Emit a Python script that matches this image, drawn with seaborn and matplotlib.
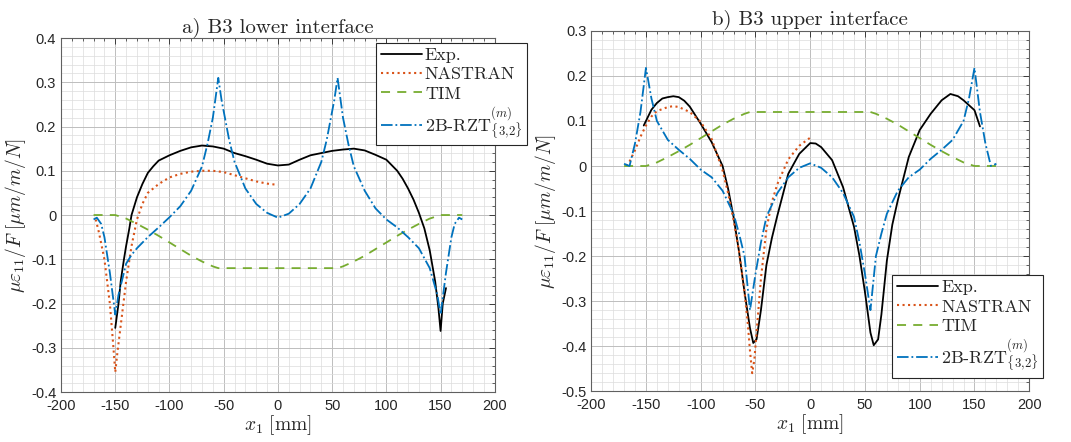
import numpy as np
import pandas as pd
import matplotlib
matplotlib.use("Agg")
import matplotlib.pyplot as plt
import seaborn as sns
from matplotlib.ticker import AutoMinorLocator, FuncFormatter, MultipleLocator

# ---------------------------------------------------------------------------
# a) B3 lower interface
# ---------------------------------------------------------------------------
a_exp_x = [-150, -147, -145, -142, -140, -137, -135, -130, -125, -120, -115, -110, -100,
           -90, -80, -70, -60, -50, -40, -30, -20, -10, 0, 10, 20, 30, 40, 50, 60, 70,
           80, 90, 100, 110, 115, 120, 125, 130, 135, 140, 145, 148, 150, 152, 155]
a_exp_y = [-0.255, -0.2, -0.15, -0.1, -0.07, -0.03, 0.0, 0.04, 0.07, 0.095, 0.11, 0.123, 0.135,
           0.145, 0.153, 0.157, 0.155, 0.15, 0.14, 0.133, 0.125, 0.116, 0.112, 0.114, 0.125, 0.135,
           0.14, 0.145, 0.148, 0.15, 0.146, 0.136, 0.125, 0.1, 0.082, 0.06, 0.035, 0.005, -0.03,
           -0.08, -0.15, -0.21, -0.262, -0.2, -0.165]

a_nas_x = [-168, -165, -160, -155, -152, -150, -148, -145, -140, -135, -130, -125, -120, -110,
           -100, -90, -80, -70, -60, -50, -40, -30, -20, -10, 0]
a_nas_y = [-0.01, -0.04, -0.1, -0.2, -0.29, -0.355, -0.31, -0.25, -0.15, -0.07, -0.01, 0.025,
           0.05, 0.07, 0.085, 0.093, 0.098, 0.1, 0.1, 0.097, 0.09, 0.083, 0.076, 0.071, 0.068]

a_tim_x = [-170, -160, -150, -140, -130, -120, -110, -100, -90, -80, -70, -60, -55, 0, 55,
           60, 70, 80, 90, 100, 110, 120, 130, 140, 150, 160, 170]
a_tim_y = [0.0, 0.0, 0.0, -0.008, -0.02, -0.033, -0.047, -0.062, -0.077, -0.092, -0.105, -0.116,
           -0.12, -0.12, -0.12, -0.116, -0.105, -0.092, -0.077, -0.062, -0.047, -0.033, -0.02,
           -0.008, 0.0, 0.0, 0.0]

a_rzt_x = [-170, -167, -163, -160, -155, -150, -147, -140, -135, -130, -120, -110, -100, -90,
           -80, -70, -65, -60, -55, -52, -45, -40, -30, -20, -10, 0, 10, 20, 30, 40, 45, 52,
           55, 60, 65, 70, 80, 90, 100, 110, 120, 130, 140, 147, 150, 155, 160, 163, 167, 170]
a_rzt_y = [-0.01, -0.006, -0.02, -0.05, -0.13, -0.225, -0.18, -0.11, -0.09, -0.075, -0.05,
           -0.028, -0.005, 0.02, 0.055, 0.11, 0.16, 0.22, 0.31, 0.26, 0.17, 0.12, 0.06, 0.025,
           0.005, -0.006, 0.003, 0.025, 0.06, 0.12, 0.17, 0.26, 0.31, 0.22, 0.16, 0.11, 0.055,
           0.015, -0.01, -0.028, -0.05, -0.075, -0.12, -0.18, -0.225, -0.13, -0.05, -0.02,
           -0.006, -0.01]

# ---------------------------------------------------------------------------
# b) B3 upper interface
# ---------------------------------------------------------------------------
b_exp_x = [-152, -148, -145, -140, -135, -130, -125, -120, -115, -110, -100, -90, -80, -75,
           -70, -65, -60, -55, -52, -49, -45, -40, -35, -30, -20, -10, 0, 5, 10, 20, 30, 40,
           45, 50, 55, 58, 62, 65, 70, 75, 80, 90, 100, 110, 120, 128, 135, 140, 145, 150, 155]
b_exp_y = [0.09, 0.11, 0.125, 0.14, 0.15, 0.153, 0.155, 0.153, 0.145, 0.132, 0.094, 0.053, 0.0,
           -0.05, -0.113, -0.19, -0.28, -0.36, -0.393, -0.385, -0.32, -0.22, -0.16, -0.11,
           -0.017, 0.027, 0.051, 0.05, 0.042, 0.013, -0.047, -0.135, -0.2, -0.28, -0.37,
           -0.398, -0.385, -0.33, -0.21, -0.13, -0.076, 0.02, 0.08, 0.116, 0.146, 0.16,
           0.155, 0.146, 0.135, 0.124, 0.088]

b_nas_x = [-168, -165, -160, -155, -150, -145, -140, -130, -125, -120, -110, -100, -90, -80,
           -75, -70, -65, -60, -57, -55, -53, -51, -49, -45, -40, -35, -30, -20, -10, 0]
b_nas_y = [0.0, 0.01, 0.035, 0.065, 0.09, 0.11, 0.122, 0.131, 0.133, 0.131, 0.12, 0.098, 0.06,
           -0.01, -0.06, -0.12, -0.19, -0.28, -0.35, -0.41, -0.46, -0.43, -0.37, -0.25, -0.14,
           -0.08, -0.04, 0.015, 0.045, 0.063]

b_tim_x = a_tim_x
b_tim_y = [-v for v in a_tim_y]

b_rzt_x = [-170, -167, -165, -160, -155, -150, -145, -140, -130, -120, -110, -100, -90, -80,
           -70, -65, -60, -55, -50, -45, -40, -30, -20, -10, 0, 10, 20, 30, 40, 45, 50, 55,
           60, 65, 70, 80, 90, 100, 110, 120, 130, 140, 145, 150, 155, 160, 165, 167, 170]
b_rzt_y = [0.005, 0.002, 0.0, 0.05, 0.12, 0.218, 0.15, 0.1, 0.058, 0.036, 0.016, -0.008,
           -0.025, -0.055, -0.106, -0.15, -0.2, -0.32, -0.24, -0.17, -0.113, -0.06, -0.025,
           -0.004, 0.006, -0.004, -0.025, -0.06, -0.113, -0.17, -0.24, -0.32, -0.2, -0.15,
           -0.106, -0.055, -0.025, -0.008, 0.016, 0.036, 0.058, 0.1, 0.15, 0.218, 0.12, 0.05,
           0.0, 0.002, 0.005]

SERIES = [
    ("Exp.", "black", "-", 1.3),
    ("NASTRAN", "#D95319", ":", 1.5),
    ("TIM", "#77AC30", (0, (5, 4)), 1.3),
    (r"2B-RZT$^{(m)}_{\{3{,}2\}}$", "#0072BD", "-.", 1.3),
]

sns.set_theme(style="white")
plt.rcParams["font.family"] = ["Liberation Sans", "DejaVu Sans"]
plt.rcParams["mathtext.fontset"] = "cm"
plt.rcParams["axes.unicode_minus"] = False

fig = plt.figure(figsize=(10.71, 4.42), dpi=100)
ax_a = fig.add_axes([0.057, 0.113, 0.405, 0.801])
ax_b = fig.add_axes([0.552, 0.115, 0.409, 0.815])

tick_fmt = FuncFormatter(lambda v, _: f"{round(v, 6):g}")


def draw_panel(ax, data, title, ylim, legend_anchor, legend_loc):
    for (label, color, ls, lw), (xs, ys) in zip(SERIES, data):
        df = pd.DataFrame({"x": xs, "y": ys})
        sns.lineplot(data=df, x="x", y="y", ax=ax, color=color, linestyle=ls,
                     linewidth=lw, label=label, sort=False, estimator=None)
    ax.set_xlim(-200, 200)
    ax.set_ylim(*ylim)
    ax.xaxis.set_major_locator(MultipleLocator(50))
    ax.yaxis.set_major_locator(MultipleLocator(0.1))
    ax.yaxis.set_major_formatter(tick_fmt)
    ax.xaxis.set_major_formatter(tick_fmt)
    ax.xaxis.set_minor_locator(AutoMinorLocator(5))
    ax.yaxis.set_minor_locator(AutoMinorLocator(5))
    ax.grid(which="major", color="#bdbdbd", linewidth=0.7)
    ax.grid(which="minor", color="#dcdcdc", linewidth=0.5)
    ax.set_axisbelow(True)
    ax.tick_params(which="both", direction="in", top=True, right=True,
                   labelsize=10.5, colors="#262626")
    ax.tick_params(which="major", length=4, width=0.6)
    ax.tick_params(which="minor", length=2, width=0.5)
    ax.tick_params(axis="x", pad=5)
    for s in ax.spines.values():
        s.set_color("#606060")
        s.set_linewidth(0.8)
    ax.set_title(title, fontsize=15, family="cmr10", pad=4)
    ax.set_xlabel(r"$x_1\ [\mathrm{mm}]$", fontsize=14, labelpad=0)
    ax.set_ylabel(r"$\mu\varepsilon_{11}/F\ [\mu m/m/N]$", fontsize=14, labelpad=2)
    leg = ax.legend(loc=legend_loc, bbox_to_anchor=legend_anchor,
                    bbox_transform=fig.transFigure, fancybox=False, frameon=True,
                    edgecolor="#262626", framealpha=1, handlelength=2.3,
                    handletextpad=0.15, borderpad=0.25, labelspacing=0.2,
                    borderaxespad=0, prop={"family": "cmr10", "size": 13})
    leg.get_frame().set_linewidth(0.8)


draw_panel(ax_a, [(a_exp_x, a_exp_y), (a_nas_x, a_nas_y), (a_tim_x, a_tim_y), (a_rzt_x, a_rzt_y)],
           "a) B3 lower interface", (-0.4, 0.4), (0.492, 0.903), "upper right")
draw_panel(ax_b, [(b_exp_x, b_exp_y), (b_nas_x, b_nas_y), (b_tim_x, b_tim_y), (b_rzt_x, b_rzt_y)],
           "b) B3 upper interface", (-0.5, 0.3), (0.974, 0.145), "lower right")

fig.savefig("out.png", dpi=100)
